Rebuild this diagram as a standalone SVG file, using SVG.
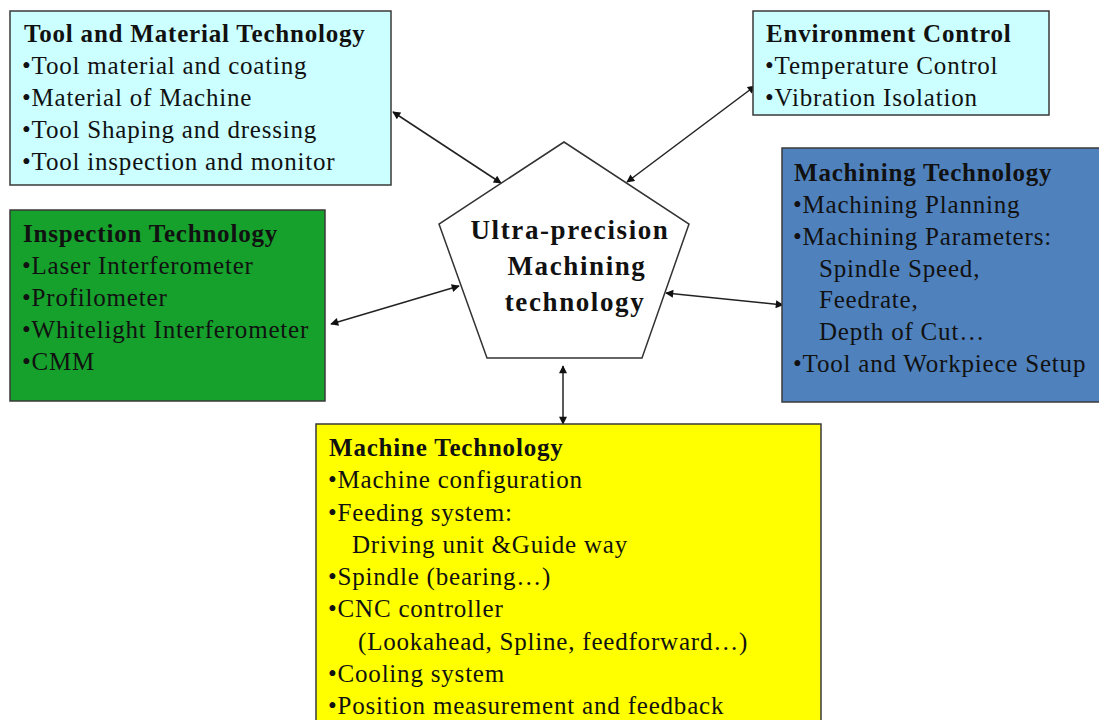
<svg xmlns="http://www.w3.org/2000/svg" width="1099" height="720" viewBox="0 0 1099 720">
<defs>
<style>
.box{stroke:#3a3a3a;stroke-width:1.5}
.t{font-family:"Liberation Serif","Times New Roman",serif;font-size:25px;letter-spacing:0.8px;fill:#111}
.b{font-weight:bold}
.c{font-family:"Liberation Serif","Times New Roman",serif;font-size:27px;letter-spacing:1.6px;font-weight:bold;fill:#111;text-anchor:middle}
.conn{stroke:#222;stroke-width:1.5;fill:none;marker-start:url(#ah);marker-end:url(#ah)}
</style>
<marker id="ah" viewBox="0 0 10 10" refX="9" refY="5" markerWidth="10" markerHeight="8" markerUnits="userSpaceOnUse" orient="auto-start-reverse">
<path d="M0,0 L10,5 L0,10 z" fill="#111"/>
</marker>
</defs>
<rect width="1099" height="720" fill="#ffffff"/>

<g id="connectors">
<line class="conn" x1="393" y1="112" x2="501" y2="183"/>
<line class="conn" x1="627" y1="182" x2="755" y2="86"/>
<line class="conn" x1="331" y1="324" x2="459" y2="286"/>
<line class="conn" x1="666" y1="293" x2="783" y2="305"/>
<line class="conn" x1="563" y1="366" x2="563" y2="424"/>
</g>

<g id="tool-material">
<rect class="box" x="10" y="11" width="381" height="174" fill="#ccffff"/>
<text class="t b" x="24" y="42">Tool and Material Technology</text>
<text class="t" x="22" y="74">•Tool material and coating</text>
<text class="t" x="22" y="106">•Material of Machine</text>
<text class="t" x="22" y="138">•Tool Shaping and dressing</text>
<text class="t" x="22" y="170">•Tool inspection and monitor</text>
</g>

<g id="environment">
<rect class="box" x="753" y="11" width="296" height="104" fill="#ccffff"/>
<text class="t b" x="766" y="42">Environment Control</text>
<text class="t" x="765" y="74">•Temperature Control</text>
<text class="t" x="765" y="106">•Vibration Isolation</text>
</g>

<g id="inspection">
<rect class="box" x="10" y="210" width="315" height="191" fill="#16a02c"/>
<text class="t b" x="23" y="242">Inspection Technology</text>
<text class="t" x="22" y="274">•Laser Interferometer</text>
<text class="t" x="22" y="306">•Profilometer</text>
<text class="t" x="22" y="338">•Whitelight Interferometer</text>
<text class="t" x="22" y="370">•CMM</text>
</g>

<g id="machining">
<rect class="box" x="782" y="148" width="330" height="254" fill="#4f81bd"/>
<text class="t b" x="794" y="181">Machining Technology</text>
<text class="t" x="793" y="213">•Machining Planning</text>
<text class="t" x="793" y="245">•Machining Parameters:</text>
<text class="t" x="819" y="277">Spindle Speed,</text>
<text class="t" x="819" y="308">Feedrate,</text>
<text class="t" x="819" y="340">Depth of Cut…</text>
<text class="t" x="793" y="372">•Tool and Workpiece Setup</text>
</g>

<g id="center">
<polygon points="564,142 689,224 642,358 487,358 439,224" fill="#ffffff" stroke="#333" stroke-width="1.5"/>
<text class="c" x="570" y="239">Ultra-precision</text>
<text class="c" x="577" y="275">Machining</text>
<text class="c" x="575" y="311">technology</text>
</g>

<g id="machine">
<rect class="box" x="316" y="424" width="505" height="310" fill="#ffff00"/>
<text class="t b" x="329" y="456">Machine Technology</text>
<text class="t" x="328" y="488">•Machine configuration</text>
<text class="t" x="328" y="521">•Feeding system:</text>
<text class="t" x="352" y="553">Driving unit &amp;Guide way</text>
<text class="t" x="328" y="585">•Spindle (bearing…)</text>
<text class="t" x="328" y="617">•CNC controller</text>
<text class="t" x="358" y="650">(Lookahead, Spline, feedforward…)</text>
<text class="t" x="328" y="682">•Cooling system</text>
<text class="t" x="328" y="714">•Position measurement and feedback</text>
</g>
</svg>
